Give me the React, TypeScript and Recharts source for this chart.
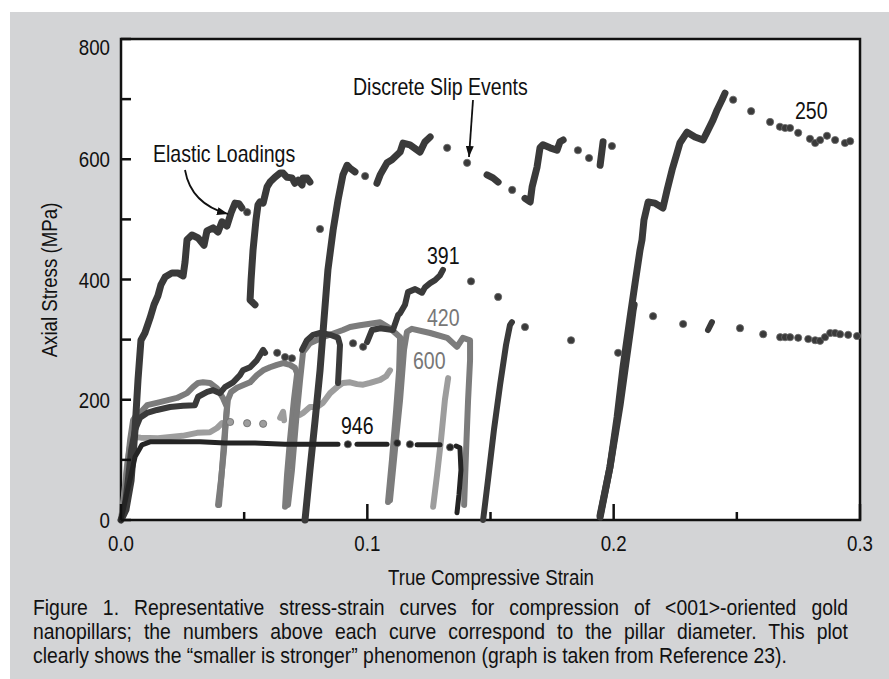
import React from "react";
import { ComposedChart, Line, Scatter, XAxis, YAxis, CartesianGrid, ReferenceArea } from "recharts";

type P = [number, number];

const FONT = '"Liberation Sans", Arial, Helvetica, sans-serif';
const SQ = 0.85; // horizontal squeeze to mimic the narrow Helvetica of the figure
const DARK = "#3a3a3a";
const MID = "#7c7c7c";
const LIGHT = "#9d9d9d";
const BLACK = "#242424";
const BG = "#d3d4d6";
const INK = "#111";

const X_TICKS = [0, 0.05, 0.1, 0.15, 0.2, 0.25, 0.3];
const Y_TICKS = [0, 100, 200, 300, 400, 500, 600, 700, 800];

// 250 nm pillar: loading segments [strain, stress MPa]
const d250a: P[] = [[0, 0], [0.002, 17], [0.0041, 66], [0.0057, 150], [0.0069, 233], [0.0081, 299], [0.0097, 311], [0.0118, 336], [0.0134, 358], [0.015, 373], [0.0162, 391], [0.0179, 404], [0.0207, 411], [0.0231, 411], [0.0252, 406], [0.026, 429], [0.0268, 466], [0.0288, 474], [0.0313, 469], [0.0337, 457], [0.0349, 481], [0.0374, 486], [0.0394, 479], [0.041, 496], [0.043, 489], [0.0447, 511], [0.0463, 527], [0.0479, 526], [0.0491, 519]];
const d250b: P[] = [[0.0544, 358], [0.0524, 366], [0.0528, 399], [0.0536, 449], [0.0548, 499], [0.0556, 524], [0.0564, 529], [0.0577, 527], [0.0593, 554], [0.0605, 562], [0.0625, 570], [0.0646, 577], [0.0658, 577], [0.0674, 570], [0.0694, 569], [0.0706, 560], [0.0719, 565], [0.0735, 557], [0.0739, 569], [0.0755, 569], [0.0767, 562]];
const d250c: P[] = [[0.0747, 0], [0.0767, 83], [0.0788, 166], [0.0808, 249], [0.0824, 333], [0.084, 416], [0.0861, 482], [0.0881, 532], [0.0901, 574], [0.0918, 590], [0.093, 585], [0.095, 579]];
const d250d: P[] = [[0.1039, 560], [0.1052, 574], [0.108, 594], [0.11, 599], [0.1133, 612], [0.1145, 627], [0.1173, 624], [0.1214, 612], [0.1234, 629], [0.1255, 637]];
const d250e: P[] = [[0.1486, 574], [0.151, 569], [0.1531, 562]];
const d250f: P[] = [[0.164, 535], [0.1661, 529], [0.1669, 554], [0.1689, 587], [0.1701, 619], [0.1713, 624], [0.1742, 619], [0.177, 615], [0.1782, 629], [0.1795, 632]];
const d250g: P[] = [[0.1945, 590], [0.1957, 629]];
const d250h: P[] = [[0.1945, 8], [0.1985, 88], [0.2014, 171], [0.2038, 254], [0.2067, 338], [0.2087, 394], [0.2107, 449], [0.2115, 466], [0.2123, 499], [0.214, 529], [0.2168, 527], [0.22, 519], [0.2217, 549], [0.2237, 582], [0.2257, 610], [0.2269, 627], [0.2298, 645], [0.233, 637], [0.2363, 632], [0.2379, 645], [0.2403, 665], [0.242, 682], [0.244, 699], [0.2452, 710]];
const dots250: P[] = [[0.0512, 512], [0.0808, 484], [0.0991, 572], [0.1324, 619], [0.1405, 594], [0.1588, 549], [0.1855, 615], [0.19, 602], [0.1993, 622], [0.2485, 699], [0.2558, 680], [0.2635, 662], [0.2675, 654], [0.2696, 652], [0.2716, 652], [0.2749, 644], [0.2797, 634], [0.2818, 627], [0.2838, 632], [0.2866, 639], [0.2899, 632], [0.2939, 627], [0.296, 630]];

// 391 nm pillar
const d391a: P[] = [[0, 0], [0.0016, 25], [0.0028, 67], [0.0041, 116], [0.0057, 150], [0.0077, 170], [0.0106, 178], [0.0146, 183], [0.0199, 188], [0.0252, 190], [0.03, 191], [0.0313, 205], [0.035, 213], [0.0374, 216], [0.0402, 211], [0.0422, 221], [0.0455, 229], [0.0483, 241], [0.0495, 249], [0.0524, 254], [0.0552, 266], [0.0577, 283], [0.0585, 278]];
const d391b: P[] = [[0.0735, 283], [0.0755, 299], [0.078, 308], [0.0808, 311], [0.0849, 308], [0.0881, 303], [0.0889, 291], [0.0885, 258], [0.0881, 228]];
const d391c: P[] = [[0.0999, 296], [0.1019, 316], [0.1052, 319], [0.1104, 316], [0.1125, 341], [0.1133, 344], [0.1153, 358], [0.1165, 379], [0.1194, 384], [0.1222, 378], [0.1234, 387], [0.1255, 394], [0.1275, 399], [0.1295, 407], [0.1307, 416]];
const d391d: P[] = [[0.147, 0], [0.149, 67], [0.1514, 150], [0.1539, 225], [0.1563, 291], [0.1579, 324], [0.1587, 329]];
const d391e: P[] = [[0.1945, 5], [0.1985, 88], [0.2026, 191], [0.2054, 274], [0.2071, 324], [0.2079, 349], [0.2083, 358]];
const d391f: P[] = [[0.2383, 316], [0.2399, 329]];
const dots391: P[] = [[0.0634, 278], [0.0666, 271], [0.0694, 269], [0.0942, 294], [0.0983, 288], [0.1421, 397], [0.1531, 371], [0.164, 321], [0.1827, 299], [0.2018, 278], [0.216, 339], [0.2282, 326], [0.2513, 319], [0.2607, 309], [0.2676, 304], [0.2696, 304], [0.2716, 304], [0.2749, 303], [0.279, 301], [0.2818, 299], [0.2838, 298], [0.2858, 304], [0.2879, 311], [0.2899, 311], [0.2919, 309], [0.2952, 308], [0.2988, 306]];

// 420 nm pillar
const d420a: P[] = [[0, 0], [0.0012, 33], [0.0024, 83], [0.0037, 133], [0.0049, 166], [0.0057, 171], [0.0077, 178], [0.0106, 191], [0.0158, 196], [0.0227, 203], [0.0268, 211], [0.0292, 221], [0.0313, 228], [0.0333, 229], [0.0361, 228], [0.039, 219], [0.0414, 203], [0.043, 188], [0.0426, 166], [0.0418, 116], [0.0406, 67], [0.0394, 25]];
const d420b: P[] = [[0.0398, 25], [0.041, 83], [0.0422, 150], [0.0434, 200], [0.0447, 213], [0.0471, 220], [0.0524, 229], [0.0552, 241], [0.0577, 249], [0.0605, 254], [0.0633, 258], [0.0658, 261], [0.0686, 258], [0.0706, 253], [0.0715, 244], [0.0702, 200], [0.0686, 133], [0.0674, 75], [0.0666, 22]];
const d420c: P[] = [[0.0678, 25], [0.0694, 83], [0.0711, 166], [0.0727, 233], [0.0739, 279], [0.0767, 294], [0.082, 304], [0.0901, 316], [0.093, 321], [0.097, 324], [0.1052, 329], [0.1092, 319], [0.1133, 304], [0.1129, 249], [0.1117, 183], [0.11, 100], [0.1084, 30]];
const d420d: P[] = [[0.1092, 33], [0.1112, 116], [0.1133, 200], [0.1149, 283], [0.1161, 313], [0.1181, 318], [0.1255, 311], [0.1324, 303], [0.1364, 288], [0.1388, 303], [0.1417, 299], [0.1417, 266], [0.1409, 200], [0.1401, 116], [0.1393, 25]];

// 600 nm pillar
const d600a: P[] = [[0, 0], [0.0012, 40], [0.0024, 90], [0.0037, 125], [0.005, 138], [0.008, 137], [0.015, 136], [0.025, 140], [0.0309, 145], [0.0361, 146], [0.039, 153], [0.041, 161]];
const d600b: P[] = [[0.0646, 170], [0.0658, 180], [0.0662, 166]];
const d600c: P[] = [[0.0727, 175], [0.0739, 178], [0.0767, 188], [0.0796, 188], [0.082, 195], [0.0849, 211], [0.0877, 221], [0.0901, 228], [0.093, 229], [0.0958, 226], [0.0983, 225], [0.1011, 228], [0.1052, 233], [0.1076, 239], [0.1092, 249]];
const d600d: P[] = [[0.1328, 236], [0.1315, 200], [0.1299, 133], [0.1283, 75], [0.1267, 22]];
const dots600: P[] = [[0.0443, 163], [0.0512, 161], [0.0577, 160]];

// 946 nm pillar
const d946a: P[] = [[0, 0], [0.0012, 22], [0.0024, 45], [0.0037, 68], [0.0057, 105], [0.0085, 125], [0.0118, 130], [0.0219, 130], [0.0321, 130], [0.0422, 128], [0.0544, 128], [0.0666, 126], [0.0767, 126], [0.0881, 126]];
const d946b: P[] = [[0.0958, 126], [0.108, 126]];
const d946c: P[] = [[0.1202, 125], [0.1295, 125]];
const d946d: P[] = [[0.136, 123], [0.1376, 120], [0.138, 83], [0.1372, 42], [0.1364, 12]];
const dots946: P[] = [[0.0921, 126], [0.1121, 128], [0.1173, 126], [0.1336, 121]];

const toXY = (a: P[]) => a.map(([x, y]) => ({ x, y }));

const LINES = [
  { id: "600a", pts: d600a, color: LIGHT, w: 6 },
  { id: "600b", pts: d600b, color: LIGHT, w: 6 },
  { id: "600c", pts: d600c, color: LIGHT, w: 6 },
  { id: "600d", pts: d600d, color: LIGHT, w: 6 },
  { id: "420a", pts: d420a, color: MID, w: 6 },
  { id: "420b", pts: d420b, color: MID, w: 6 },
  { id: "420c", pts: d420c, color: MID, w: 6 },
  { id: "420d", pts: d420d, color: MID, w: 6 },
  { id: "391a", pts: d391a, color: DARK, w: 6 },
  { id: "391b", pts: d391b, color: DARK, w: 6 },
  { id: "391c", pts: d391c, color: DARK, w: 6 },
  { id: "391d", pts: d391d, color: DARK, w: 6 },
  { id: "391e", pts: d391e, color: DARK, w: 7 },
  { id: "391f", pts: d391f, color: DARK, w: 6 },
  { id: "250a", pts: d250a, color: DARK, w: 7 },
  { id: "250b", pts: d250b, color: DARK, w: 7 },
  { id: "250c", pts: d250c, color: DARK, w: 7 },
  { id: "250d", pts: d250d, color: DARK, w: 7 },
  { id: "250e", pts: d250e, color: DARK, w: 7 },
  { id: "250f", pts: d250f, color: DARK, w: 7 },
  { id: "250g", pts: d250g, color: DARK, w: 7 },
  { id: "250h", pts: d250h, color: DARK, w: 7 },
  { id: "946a", pts: d946a, color: BLACK, w: 5 },
  { id: "946b", pts: d946b, color: BLACK, w: 5 },
  { id: "946c", pts: d946c, color: BLACK, w: 5 },
  { id: "946d", pts: d946d, color: BLACK, w: 5 },
];

const DOTS = [
  { id: "dots600", pts: dots600, color: LIGHT },
  { id: "dots391", pts: dots391, color: DARK },
  { id: "dots250", pts: dots250, color: DARK },
  { id: "dots946", pts: dots946, color: BLACK },
];

function NText({ x, y, size, anchor = "start", fill = INK, rot = false, children }: any) {
  return (
    <text
      transform={`translate(${x} ${y})${rot ? " rotate(-90)" : ""} scale(${SQ} 1)`}
      textAnchor={anchor}
      fontSize={size}
      fontFamily={FONT}
      fill={fill}
    >
      {children}
    </text>
  );
}

function XTick({ x, y, payload }: any) {
  const v = payload.value as number;
  const major = Math.abs(v * 10 - Math.round(v * 10)) < 1e-6;
  return (
    <g>
      <line x1={x} x2={x} y1={y} y2={y - (major ? 16 : 8)} stroke={INK} strokeWidth={2.5} />
      {major && <NText x={x} y={y + 31} size={22} anchor="middle">{v.toFixed(1)}</NText>}
    </g>
  );
}

function YTick({ x, y, payload }: any) {
  const v = payload.value as number;
  const major = v % 200 === 0;
  return (
    <g>
      <line x1={x} x2={x + 10} y1={y} y2={y} stroke={INK} strokeWidth={2.5} />
      {major && <NText x={x - 11} y={y + 8 + (v === 800 ? 8 : 0)} size={22} anchor="end">{v}</NText>}
    </g>
  );
}

const Dot = (color: string) => (p: any) => (
  <circle cx={p.cx} cy={p.cy} r={3.6} fill={color} stroke="#6a6a6a" strokeWidth={0.8} />
);

const capLine = { textAlign: "justify" as const, textAlignLast: "justify" as const };

export default function App() {
  return (
    <div style={{ position: "absolute", left: 0, top: 0, width: 889, height: 679, background: "#fff", overflow: "hidden" }}>
      <div style={{ position: "absolute", left: 10, top: 12, right: 0, bottom: 0, background: BG }} />
      <div style={{ position: "absolute", left: 0, top: 0 }}>
        <ComposedChart width={889} height={679} margin={{ top: 39, right: 29, left: 61, bottom: 129 }}>
          <CartesianGrid horizontal={false} vertical={false} fill="#fff" />
          <XAxis
            type="number"
            dataKey="x"
            domain={[0, 0.3]}
            ticks={X_TICKS}
            interval={0}
            height={30}
            axisLine={false}
            tickLine={false}
            tickSize={0}
            tickMargin={0}
            tick={(p: any) => <XTick {...p} />}
          />
          <YAxis
            type="number"
            dataKey="y"
            domain={[0, 800]}
            ticks={Y_TICKS}
            interval={0}
            width={60}
            axisLine={false}
            tickLine={false}
            tickSize={0}
            tickMargin={0}
            tick={(p: any) => <YTick {...p} />}
          />
          {LINES.map((s) => (
            <Line
              key={s.id}
              data={toXY(s.pts)}
              dataKey="y"
              type="linear"
              stroke={s.color}
              strokeWidth={s.w}
              strokeLinecap="round"
              strokeLinejoin="round"
              dot={false}
              activeDot={false}
              isAnimationActive={false}
            />
          ))}
          {DOTS.map((s) => (
            <Scatter key={s.id} data={toXY(s.pts)} fill={s.color} shape={Dot(s.color)} isAnimationActive={false} />
          ))}
          <ReferenceArea x1={0} x2={0.3} y1={0} y2={800} fill="none" fillOpacity={0} stroke={INK} strokeWidth={2.5} />
        </ComposedChart>
      </div>
      <svg style={{ position: "absolute", left: 0, top: 0, pointerEvents: "none" }} width={889} height={679}>
        <defs>
          <marker id="ah" viewBox="0 0 11 8" refX={11} refY={4} markerWidth={11} markerHeight={8} markerUnits="userSpaceOnUse" orient="auto">
            <path d="M0,0 L11,4 L0,8 z" fill={INK} />
          </marker>
        </defs>
        <NText x={57} y={280} size={22} anchor="middle" rot>Axial Stress (MPa)</NText>
        <NText x={491} y={585} size={22} anchor="middle">True Compressive Strain</NText>
        <NText x={153} y={162} size={23}>Elastic Loadings</NText>
        <NText x={353} y={95} size={23}>Discrete Slip Events</NText>
        <NText x={795} y={119} size={23}>250</NText>
        <NText x={427} y={264} size={23}>391</NText>
        <NText x={427} y={326} size={23} fill="#777">420</NText>
        <NText x={413} y={369} size={23} fill="#777">600</NText>
        <NText x={341} y={434} size={23}>946</NText>
        <path d="M185 170 Q191 204 228 214" stroke={INK} strokeWidth={1.8} fill="none" markerEnd="url(#ah)" />
        <path d="M473 100 L469 157" stroke={INK} strokeWidth={1.8} fill="none" markerEnd="url(#ah)" />
      </svg>
      <div
        style={{
          position: "absolute",
          left: 33,
          top: 596,
          width: 815 / 0.9,
          transform: "scaleX(0.9)",
          transformOrigin: "left top",
          fontFamily: FONT,
          fontSize: 21.5,
          lineHeight: "24px",
          color: INK,
        }}
      >
        <div style={capLine}>Figure 1. Representative stress-strain curves for compression of {"<001>"}-oriented gold</div>
        <div style={capLine}>nanopillars; the numbers above each curve correspond to the pillar diameter. This plot</div>
        <div>clearly shows the “smaller is stronger” phenomenon (graph is taken from Reference 23).</div>
      </div>
    </div>
  );
}
